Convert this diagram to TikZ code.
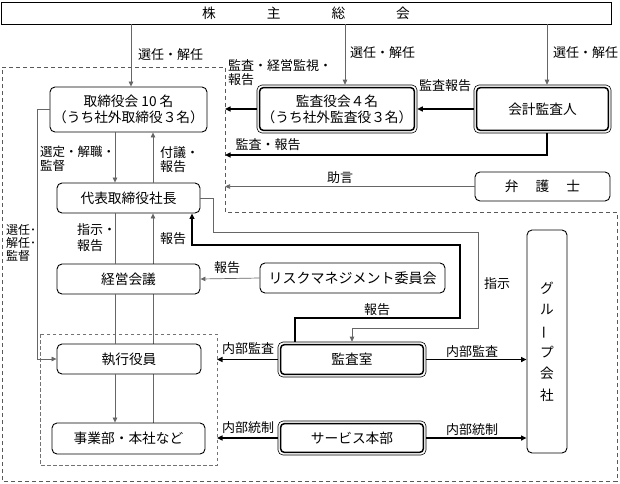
\documentclass[tikz,border=0pt]{standalone}
\usepackage{fontspec}
\newfontfamily\jp{Noto Sans CJK JP}
\usetikzlibrary{arrows.meta,backgrounds}
\begin{document}
\begin{tikzpicture}[x=1pt,y=-1pt,font=\jp,
  box/.style={draw, rounded corners=5pt, line width=0.9pt, fill=white, align=center, inner sep=0pt,
    font=\jp\fontsize{13.7}{16}\selectfont},
  dbox/.style={box, line width=0.6pt},
  inner/.style={draw, line width=1.5pt, rounded corners=3.5pt},
  thinline/.style={draw=black!60, line width=0.7pt},
  thinarr/.style={thinline, -{Triangle[length=5pt,width=4.5pt]}},
  fat/.style={draw=black, line width=1.8pt},
  fatarr/.style={fat, -{Triangle[length=5.5pt,width=5pt]}},
  lbl/.style={font=\jp\fontsize{13}{14}\selectfont, inner sep=0pt, align=left},
  outerdash/.style={draw=black!65, line width=0.8pt, dash pattern=on 4pt off 3pt},
  innerdash/.style={draw=black!55, line width=0.7pt, dash pattern=on 3.5pt off 2.5pt},
]
\useasboundingbox (0,0) rectangle (620,483);

% dashed regions
\draw[outerdash] (2,67) -- (225,67) -- (225,212) -- (617,212) -- (617,481) -- (2,481) -- cycle;
\draw[innerdash] (40,334) rectangle (217,465);

% nodes
\node[box, rounded corners=0pt, minimum width=610pt, minimum height=22pt] (top) at (306,13)
  {株\hspace{51pt}主\hspace{51pt}総\hspace{51pt}会};
\node[box, minimum width=157pt, minimum height=45pt] (board) at (128.5,109.5)
  {取締役会 10 名\\（うち社外取締役３名）};
\node[dbox, minimum width=160pt, minimum height=48pt] (kansa) at (337,109)
  {監査役会４名\\（うち社外監査役３名）};
\node[dbox, minimum width=137pt, minimum height=48pt] (kaikei) at (542.5,109) {会計監査人};
\node[box, minimum width=143pt, minimum height=30pt] (ceo) at (128.5,198) {代表取締役社長};
\node[box, minimum width=143pt, minimum height=30pt] (keiei) at (128.5,279) {経営会議};
\node[box, minimum width=185pt, minimum height=30pt, font=\jp\fontsize{14}{16}\selectfont] (risk) at (352.5,278) {リスクマネジメント委員会};
\node[box, minimum width=135pt, minimum height=29pt] (bengo) at (542.5,186.5)
  {弁\hspace{17pt}護\hspace{17pt}士};
\node[box, minimum width=40pt, minimum height=223pt, font=\jp\fontsize{13.7}{21.4}\selectfont] (group) at (547,341.5)
  {グ\\ル\\\rotatebox[origin=c]{90}{ー}\\プ\\会\\社};
\node[box, minimum width=144pt, minimum height=30pt] (shikko) at (129,359) {執行役員};
\node[box, minimum width=153pt, minimum height=31pt] (jigyo) at (128.5,438.5) {事業部・本社など};
\node[dbox, minimum width=148pt, minimum height=35pt] (shitsu) at (352,359.5) {監査室};
\node[dbox, minimum width=148pt, minimum height=34pt] (service) at (352,438) {サービス本部};

% inner lines of double boxes
\foreach \n in {kansa,kaikei,shitsu,service}
  \draw[inner] ([shift={(3,3)}]\n.north west) rectangle ([shift={(-3,-3)}]\n.south east);

% free ends on the dashed boundary
\coordinate (eA) at (225,109);
\coordinate (eB) at (225,155);
\coordinate (eC) at (225,186.5);
\coordinate (eD) at (217,359.5);
\coordinate (eE) at (217,438);

% connectors behind boxes
\begin{pgfonlayer}{background}
\draw[thinarr] (153,0 |- jigyo.north) -- (153,0 |- ceo.south);
\end{pgfonlayer}

% shareholders
\draw[thinarr] (131,0 |- top.south) -- (131,0 |- board.north);
\node[lbl, anchor=west] (l1) at (138,55) {選任・解任};
\draw[thinarr] (345,0 |- top.south) -- (345,0 |- kansa.north);
\node[lbl, anchor=west] (l2) at (350,53) {選任・解任};
\draw[thinarr] (547,0 |- top.south) -- (547,0 |- kaikei.north);
\node[lbl, anchor=west] (l3) at (553,53) {選任・解任};

% auditors
\draw[fatarr] (kansa.west) -- (eA);
\node[lbl, anchor=north west] (l4) at (228,59) {監査・経営監視・\\報告};
\draw[fatarr] (kaikei.west) -- (kansa.east);
\node[lbl] (l5) at (445,86) {監査報告};
\draw[fatarr] (547,0 |- kaikei.south) |- (eB);
\node[lbl] (l6) at (268,145) {監査・報告};
\draw[thinarr] (bengo.west) -- (eC);
\node[lbl] (l7) at (340,178) {助言};

% board and president
\draw[thinarr] (115,0 |- board.south) -- (115,0 |- ceo.north);
\node[lbl, anchor=north west, font=\jp\fontsize{12.5}{14}\selectfont] (l8) at (40,146) {選定・解職・\\監督};
\draw[thinarr] (153,0 |- ceo.north) -- (153,0 |- board.south);
\node[lbl, anchor=north west] (l9) at (160,146) {付議・\\報告};
\draw[thinarr] (board.west) -- ++(-12,0) |- (shikko.west);
\node[lbl, anchor=north west, font=\jp\fontsize{12}{13}\selectfont] (l10) at (6,224) {選任･\\解任･\\監督};

% execution chain
\draw[thinline] (115,0 |- ceo.south) -- (115,0 |- keiei.north);
\node[lbl, anchor=north west, font=\jp\fontsize{13}{16}\selectfont] (l11) at (77,223) {指示・\\報告};
\draw[thinline] (115,0 |- keiei.south) -- (115,0 |- shikko.north);
\draw[thinarr] (115,0 |- shikko.south) -- (115,0 |- jigyo.north);
\node[lbl, anchor=west] (l12) at (160,239) {報告};

% risk committee
\draw[thinarr] (risk.west) -- (keiei.east);
\node[lbl] (l13) at (227,268) {報告};

% president <-> audit office
\draw[thinarr] (ceo.east) -- ++(13,0) |- (478,232) |- (352,328) -- (352,0 |- shitsu.north);
\node[lbl] (l14) at (497,284) {指示};
\draw[fatarr] (295,0 |- shitsu.north) |- (460,318) |- (192,245) -- (192,0 |- ceo.south);
\node[lbl] (l15) at (377,310) {報告};

% internal audit / control
\draw[fatarr] (shitsu.west) -- (eD);
\node[lbl] (l16) at (248,349) {内部監査};
\draw[fatarr] (service.west) -- (eE);
\node[lbl] (l17) at (248,428) {内部統制};
\draw[fatarr] (shitsu.east) -- (shitsu.east -| group.west);
\node[lbl] (l18) at (472,352) {内部監査};
\draw[fatarr] (service.east) -- (service.east -| group.west);
\node[lbl] (l19) at (472,430) {内部統制};
\end{tikzpicture}
\end{document}
